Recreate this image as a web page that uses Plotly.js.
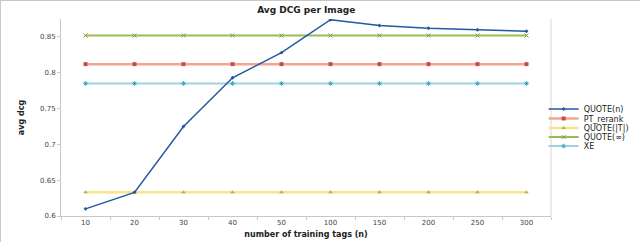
<!DOCTYPE html>
<html><head><meta charset="utf-8">
<script src="https://cdn.plot.ly/plotly-3.0.1.min.js"></script>
<style>html,body{margin:0;padding:0;background:#fff;}#c{width:640px;height:242px;box-sizing:border-box;border:1px solid #c8c8c8;}</style>
</head><body><div id="c"></div>
<script>
const categories = ['10','20','30','40','50','100','150','200','250','300'];
const quoteN = [0.610, 0.633, 0.725, 0.793, 0.828, 0.874, 0.866, 0.862, 0.860, 0.858];
const ptRerank = [0.812,0.812,0.812,0.812,0.812,0.812,0.812,0.812,0.812,0.812];
const quoteT = [0.633,0.633,0.633,0.633,0.633,0.633,0.633,0.633,0.633,0.633];
const quoteInf = [0.852,0.852,0.852,0.852,0.852,0.852,0.852,0.852,0.852,0.852];
const xe = [0.785,0.785,0.785,0.785,0.785,0.785,0.785,0.785,0.785,0.785];
const seriesNames = ['QUOTE(n)','PT_rerank','QUOTE(|T|)','QUOTE(\u221E)','XE'];

const traces = [
 {name: seriesNames[1], legend:'legend2', y: ptRerank, line:{color:'#f5a58f', width:2.5}, marker:{symbol:'square', color:'#c0504d', size:4}},
 {name: seriesNames[2], legend:'legend3', y: quoteT, line:{color:'#fbe38a', width:2.5}, marker:{symbol:'triangle-up', color:'#9bbb59', size:4}},
 {name: seriesNames[3], legend:'legend4', y: quoteInf, line:{color:'#9bbb59', width:2}, marker:{symbol:'x-thin', color:'#7f9f45', size:4, line:{width:1,color:'#7f9f45'}}},
 {name: seriesNames[4], legend:'legend5', y: xe, line:{color:'#9fd4e6', width:2}, marker:{symbol:'asterisk', color:'#4bacc6', size:4, line:{width:1,color:'#4bacc6'}}},
 {name: seriesNames[0], legend:'legend', y: quoteN, line:{color:'#2358a3', width:1.5}, marker:{symbol:'diamond', color:'#2358a3', size:3}}
].map(t => Object.assign({type:'scatter', mode:'lines+markers', x: categories}, t));

function leg(y){
  return {x:0.985, xanchor:'left', y:y, yanchor:'middle', font:{family:'DejaVu Sans', size:8, color:'#222'},
          itemwidth:30, bgcolor:'rgba(0,0,0,0)', borderwidth:0};
}

const layout = {
  width: 640, height: 242,
  margin: {l:60, r:90, t:18, b:27, autoexpand:false},
  paper_bgcolor:'#ffffff', plot_bgcolor:'#ffffff',
  title: {text:'<b>Avg DCG per Image</b>', x:0.477, xanchor:'center', y:0.965, yanchor:'middle', font:{family:'DejaVu Sans', size:9, color:'#222'}},
  showlegend: true,
  legend: leg(0.543), legend2: leg(0.495), legend3: leg(0.447), legend4: leg(0.401), legend5: leg(0.355),
  xaxis: {type:'category', range:[-0.5, 9.5], showline:true, linecolor:'#c8c8c8', linewidth:1, ticks:'outside', tickson:'boundaries', ticklen:3, tickcolor:'#c8c8c8', showgrid:false, zeroline:false,
    tickfont:{family:'DejaVu Sans', size:7, color:'#444'},
    title:{text:'<b>number of training tags (n)</b>', standoff:4, font:{family:'DejaVu Sans', size:8, color:'#222'}}},
  yaxis: {range:[0.6, 0.875], dtick:0.05, tick0:0.6, showline:true, linecolor:'#c8c8c8', linewidth:1, ticks:'outside', ticklen:3, tickcolor:'#c8c8c8', showgrid:false, zeroline:false,
    tickfont:{family:'DejaVu Sans', size:7, color:'#444'},
    title:{text:'<b>avg dcg</b>', standoff:14, font:{family:'DejaVu Sans', size:8, color:'#222'}}},
  shapes: [{type:'line', xref:'paper', yref:'paper', x0:1, x1:1, y0:0, y1:1, line:{color:'#d8d8d8', width:1}}]
};
Plotly.newPlot('c', traces, layout, {displayModeBar:false, staticPlot:true});
</script></body></html>
